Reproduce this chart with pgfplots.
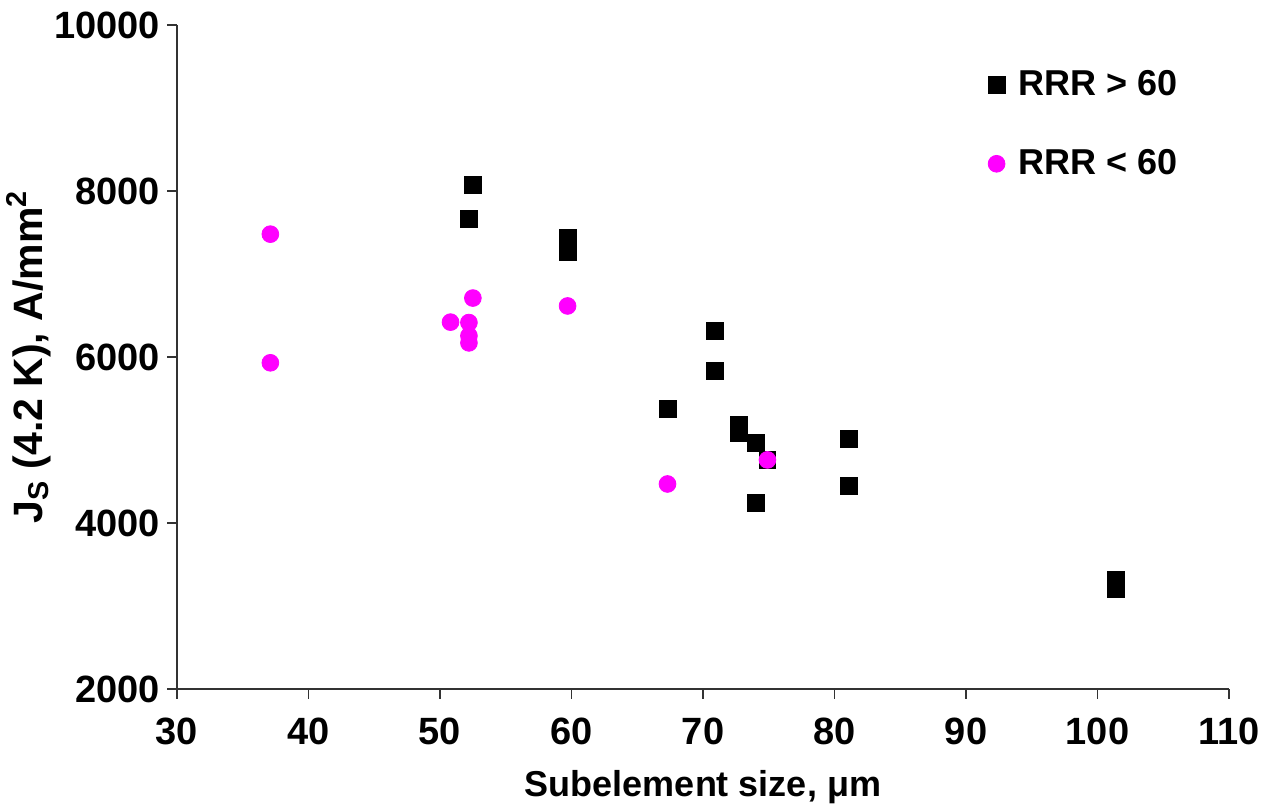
\documentclass[border=0pt]{standalone}
\usepackage{pgfplots}
\pgfplotsset{compat=1.18}
\usepackage{fontspec}
\setmainfont{Liberation Sans}
\definecolor{mag}{RGB}{255,0,255}

\begin{document}
\begin{tikzpicture}
  \begin{axis}[
      scale only axis,
      width=526pt, height=332pt,
      xmin=30, xmax=110,
      ymin=2000, ymax=10000,
      xtick={30,40,...,110},
      ytick={2000,4000,...,10000},
      scaled ticks=false,
      axis lines=left,
      axis line style={-, line width=0.8pt, black!80},
      tick align=outside,
      major tick length=5pt,
      tick style={line width=0.8pt, black!80},
      /pgf/number format/assume math mode=true,
      /pgf/number format/set thousands separator={},
      ticklabel style={font=\fontsize{19}{22}\selectfont\bfseries},
      xticklabel style={yshift=-6pt},
      xlabel={Subelement size, μm},
      ylabel={J\textsubscript{S} (4.2 K), A/mm\textsuperscript{2}},
      xlabel style={font=\fontsize{18}{21}\selectfont\bfseries, yshift=-6pt},
      ylabel style={font=\fontsize{20.5}{24}\selectfont\bfseries, yshift=-5pt},
      legend style={
        draw=none, fill=none,
        at={(rel axis cs:0.765,0.944)}, anchor=north west,
        font=\fontsize{18}{21}\selectfont\bfseries,
        row sep=21.5pt,
        /tikz/every odd column/.append style={column sep=5pt},
      },
      legend cell align=left,
    ]
    % RRR > 60
    \addplot[only marks, mark=square*, mark size=4.2pt, color=black] coordinates {
      (52.5,8070) (52.2,7660) (59.7,7440) (59.7,7260)
      (70.9,6310) (70.9,5830) (67.3,5375)
      (72.7,5180) (72.7,5085) (74.0,4965) (74.9,4760) (74.0,4240)
      (81.1,5015) (81.1,4450) (101.4,3320) (101.4,3205)
    };
    \addlegendentry{RRR > 60}
    % RRR < 60
    \addplot[only marks, mark=*, mark size=4.2pt, color=mag] coordinates {
      (37.1,7480) (37.1,5930)
      (52.5,6710) (50.8,6420) (52.2,6415) (52.2,6255) (52.2,6170)
      (59.7,6615) (67.3,4470) (74.9,4760)
    };
    \addlegendentry{RRR < 60}
  \end{axis}
  \pgfresetboundingbox
  \path ([shift={(-88.5pt,-60pt)}]current axis.south west)
    rectangle ([shift={(21.5pt,12.5pt)}]current axis.north east);
\end{tikzpicture}
\end{document}
